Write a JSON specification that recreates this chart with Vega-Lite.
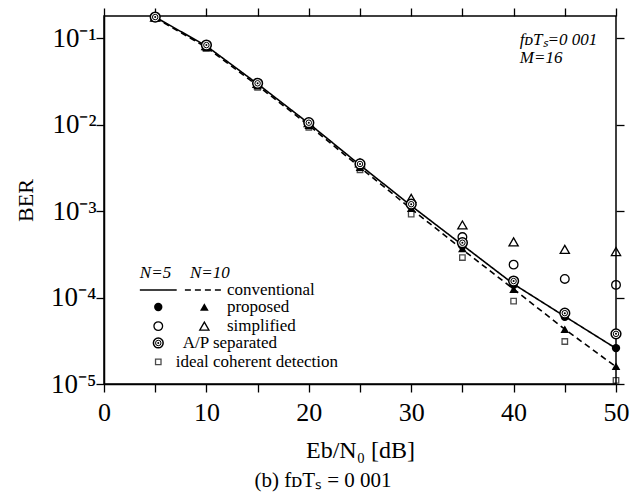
{
  "$schema": "https://vega.github.io/schema/vega-lite/v6.json",
  "width": 512,
  "height": 368,
  "autosize": {"type": "none"},
  "padding": {"left": 104, "top": 16, "right": 16, "bottom": 112},
  "background": "white",
  "title": {"text": "(b)  fᴅTₛ  =  0 001", "orient": "bottom", "fontSize": 21, "fontWeight": "normal", "font": "Liberation Serif", "color": "black", "offset": 8, "dx": -37},
  "config": {
    "view": {"stroke": "black", "strokeWidth": 1.5},
    "font": "Liberation Serif",
    "axis": {"grid": false, "domainColor": "black", "domainWidth": 1.5, "ticks": true, "tickColor": "black", "tickWidth": 1.3, "labelColor": "black", "titleColor": "black", "labelFont": "Liberation Serif", "titleFont": "Liberation Serif", "titleFontWeight": "normal"}
  },
  "datasets": {
    "pts": [
      {"ebn0": 5, "ber": 0.175, "series": "conv5"}, {"ebn0": 10, "ber": 0.081, "series": "conv5"}, {"ebn0": 15, "ber": 0.0295, "series": "conv5"}, {"ebn0": 20, "ber": 0.0103, "series": "conv5"}, {"ebn0": 25, "ber": 0.0034, "series": "conv5"}, {"ebn0": 30, "ber": 0.00115, "series": "conv5"}, {"ebn0": 35, "ber": 0.000405, "series": "conv5"}, {"ebn0": 40, "ber": 0.000143, "series": "conv5"}, {"ebn0": 45, "ber": 0.0000605, "series": "conv5"}, {"ebn0": 50, "ber": 0.0000258, "series": "conv5"},
      {"ebn0": 5, "ber": 0.172, "series": "conv10"}, {"ebn0": 10, "ber": 0.078, "series": "conv10"}, {"ebn0": 15, "ber": 0.0282, "series": "conv10"}, {"ebn0": 20, "ber": 0.0098, "series": "conv10"}, {"ebn0": 25, "ber": 0.0032, "series": "conv10"}, {"ebn0": 30, "ber": 0.00106, "series": "conv10"}, {"ebn0": 35, "ber": 0.00036, "series": "conv10"}, {"ebn0": 40, "ber": 0.000125, "series": "conv10"}, {"ebn0": 45, "ber": 0.000043, "series": "conv10"}, {"ebn0": 50, "ber": 0.0000158, "series": "conv10"},
      {"ebn0": 5, "ber": 0.175, "series": "prop5"}, {"ebn0": 10, "ber": 0.081, "series": "prop5"}, {"ebn0": 15, "ber": 0.0295, "series": "prop5"}, {"ebn0": 20, "ber": 0.0103, "series": "prop5"}, {"ebn0": 25, "ber": 0.0034, "series": "prop5"}, {"ebn0": 30, "ber": 0.00115, "series": "prop5"}, {"ebn0": 35, "ber": 0.0004, "series": "prop5"}, {"ebn0": 40, "ber": 0.00014, "series": "prop5"}, {"ebn0": 45, "ber": 0.00006, "series": "prop5"}, {"ebn0": 50, "ber": 0.000026, "series": "prop5"},
      {"ebn0": 5, "ber": 0.172, "series": "prop10"}, {"ebn0": 10, "ber": 0.078, "series": "prop10"}, {"ebn0": 15, "ber": 0.0282, "series": "prop10"}, {"ebn0": 20, "ber": 0.0098, "series": "prop10"}, {"ebn0": 25, "ber": 0.0032, "series": "prop10"}, {"ebn0": 30, "ber": 0.00108, "series": "prop10"}, {"ebn0": 35, "ber": 0.00037, "series": "prop10"}, {"ebn0": 40, "ber": 0.000125, "series": "prop10"}, {"ebn0": 45, "ber": 0.000043, "series": "prop10"}, {"ebn0": 50, "ber": 0.000016, "series": "prop10"},
      {"ebn0": 5, "ber": 0.175, "series": "simp5"}, {"ebn0": 10, "ber": 0.082, "series": "simp5"}, {"ebn0": 15, "ber": 0.03, "series": "simp5"}, {"ebn0": 20, "ber": 0.0105, "series": "simp5"}, {"ebn0": 25, "ber": 0.0035, "series": "simp5"}, {"ebn0": 30, "ber": 0.0012, "series": "simp5"}, {"ebn0": 35, "ber": 0.0005, "series": "simp5"}, {"ebn0": 40, "ber": 0.00024, "series": "simp5"}, {"ebn0": 45, "ber": 0.000164, "series": "simp5"}, {"ebn0": 50, "ber": 0.00014, "series": "simp5"},
      {"ebn0": 5, "ber": 0.175, "series": "simp10"}, {"ebn0": 10, "ber": 0.082, "series": "simp10"}, {"ebn0": 15, "ber": 0.03, "series": "simp10"}, {"ebn0": 20, "ber": 0.0105, "series": "simp10"}, {"ebn0": 25, "ber": 0.0036, "series": "simp10"}, {"ebn0": 30, "ber": 0.0014, "series": "simp10"}, {"ebn0": 35, "ber": 0.00069, "series": "simp10"}, {"ebn0": 40, "ber": 0.00044, "series": "simp10"}, {"ebn0": 45, "ber": 0.00036, "series": "simp10"}, {"ebn0": 50, "ber": 0.00034, "series": "simp10"},
      {"ebn0": 5, "ber": 0.175, "series": "ap"}, {"ebn0": 10, "ber": 0.083, "series": "ap"}, {"ebn0": 15, "ber": 0.03, "series": "ap"}, {"ebn0": 20, "ber": 0.0105, "series": "ap"}, {"ebn0": 25, "ber": 0.0035, "series": "ap"}, {"ebn0": 30, "ber": 0.0012, "series": "ap"}, {"ebn0": 35, "ber": 0.00043, "series": "ap"}, {"ebn0": 40, "ber": 0.000155, "series": "ap"}, {"ebn0": 45, "ber": 0.000066, "series": "ap"}, {"ebn0": 50, "ber": 0.000038, "series": "ap"},
      {"ebn0": 5, "ber": 0.17, "series": "ideal"}, {"ebn0": 10, "ber": 0.076, "series": "ideal"}, {"ebn0": 15, "ber": 0.027, "series": "ideal"}, {"ebn0": 20, "ber": 0.0093, "series": "ideal"}, {"ebn0": 25, "ber": 0.003, "series": "ideal"}, {"ebn0": 30, "ber": 0.00092, "series": "ideal"}, {"ebn0": 35, "ber": 0.00029, "series": "ideal"}, {"ebn0": 40, "ber": 0.000091, "series": "ideal"}, {"ebn0": 45, "ber": 0.000031, "series": "ideal"}, {"ebn0": 50, "ber": 0.000011, "series": "ideal"},
      {"ebn0": 5.3, "ber": 0.0000776, "series": "prop5"}, {"ebn0": 9.8, "ber": 0.0000776, "series": "prop10"},
      {"ebn0": 5.3, "ber": 0.0000467, "series": "simp5"}, {"ebn0": 9.8, "ber": 0.0000467, "series": "simp10"},
      {"ebn0": 5.3, "ber": 0.0000298, "series": "ap"}, {"ebn0": 5.3, "ber": 0.000018, "series": "ideal"}
    ],
    "legLines": [
      {"ebn0": 3.5, "ebn0End": 7.1, "ber": 0.000122, "series": "conv5"},
      {"ebn0": 7.9, "ebn0End": 11.6, "ber": 0.000122, "series": "conv10"}
    ],
    "texts": [
      {"ebn0": 3.5, "ber": 0.000192, "label": "N=5", "kind": "italic"},
      {"ebn0": 8.4, "ber": 0.000192, "label": "N=10", "kind": "italic"},
      {"ebn0": 40.6, "ber": 0.095, "label": "fᴅTₛ=0 001", "kind": "italic"},
      {"ebn0": 40.6, "ber": 0.059, "label": "M=16", "kind": "italic"},
      {"ebn0": 12.0, "ber": 0.000122, "label": "conventional", "kind": "normal"},
      {"ebn0": 12.0, "ber": 0.0000776, "label": "proposed", "kind": "normal"},
      {"ebn0": 12.0, "ber": 0.0000467, "label": "simplified", "kind": "normal"},
      {"ebn0": 7.7, "ber": 0.0000298, "label": "A/P separated", "kind": "normal"},
      {"ebn0": 7.0, "ber": 0.000018, "label": "ideal coherent detection", "kind": "normal"}
    ]
  },
  "resolve": {"axis": {"x": "independent", "y": "independent"}},
  "layer": [
    {
      "data": {"name": "pts"},
      "transform": [{"filter": "datum.series === 'conv5' || datum.series === 'conv10'"}],
      "mark": {"type": "line", "color": "black", "strokeWidth": 1.6, "clip": false},
      "encoding": {
        "x": {"field": "ebn0", "type": "quantitative", "scale": {"domain": [0, 50], "nice": false, "zero": false},
              "axis": {"orient": "bottom", "values": [0, 5, 10, 15, 20, 25, 30, 35, 40, 45, 50], "tickSize": 8, "encode": {"ticks": {"update": {"y2": {"value": -8}}}}, "labelExpr": "datum.value % 10 === 0 ? datum.label : ''", "labelFontSize": 26, "labelPadding": 7, "labelFlush": false, "title": "Eb/N₀ [dB]", "titleFontSize": 24, "titleY": 66, "titleBaseline": "middle"}},
        "y": {"field": "ber", "type": "quantitative", "scale": {"type": "log", "domain": [0.00001, 0.18], "nice": false},
              "axis": {"orient": "left", "values": [0.00001, 0.0001, 0.001, 0.01, 0.1], "tickSize": 8, "encode": {"ticks": {"update": {"x2": {"value": 8}}}}, "labelExpr": "'10⁻' + ['', '¹', '²', '³', '⁴', '⁵'][round(-log(datum.value) / LN10)]", "labelFontSize": 27, "labelPadding": 0, "labelFlush": false, "title": "BER", "titleFontSize": 22, "titleX": -79, "titleY": 184, "titleBaseline": "middle", "titleAngle": 270}},
        "detail": {"field": "series"},
        "strokeDash": {"field": "series", "type": "nominal", "scale": {"domain": ["conv5", "conv10"], "range": [[1, 0], [6, 4]]}, "legend": null}
      }
    },
    {
      "data": {"name": "legLines"},
      "mark": {"type": "rule", "color": "black", "strokeWidth": 1.6},
      "encoding": {
        "x": {"field": "ebn0", "type": "quantitative", "axis": null},
        "x2": {"field": "ebn0End"},
        "y": {"field": "ber", "type": "quantitative", "axis": null},
        "strokeDash": {"field": "series", "type": "nominal", "scale": {"domain": ["conv5", "conv10"], "range": [[1, 0], [6, 4]]}, "legend": null}
      }
    },
    {
      "data": {"name": "pts"},
      "transform": [{"filter": "datum.series === 'ideal'"}],
      "mark": {"type": "point", "shape": "square", "filled": false, "size": 30, "color": "black", "strokeWidth": 1.3, "clip": false},
      "encoding": {
        "x": {"field": "ebn0", "type": "quantitative", "axis": {"orient": "top", "values": [0, 5, 10, 15, 20, 25, 30, 35, 40, 45, 50], "tickSize": 8, "encode": {"ticks": {"update": {"y2": {"value": 8}}}}, "labels": false, "title": null, "domain": false}},
        "y": {"field": "ber", "type": "quantitative", "axis": {"orient": "right", "values": [0.00001, 0.0001, 0.001, 0.01, 0.1], "tickSize": 8, "encode": {"ticks": {"update": {"x2": {"value": -8}}}}, "labels": false, "title": null, "domain": false}}
      }
    },
    {
      "data": {"name": "pts"},
      "transform": [{"filter": "datum.series === 'prop5'"}],
      "mark": {"type": "point", "shape": "circle", "filled": true, "size": 70, "color": "black", "opacity": 1, "clip": false},
      "encoding": {"x": {"field": "ebn0", "type": "quantitative", "axis": null}, "y": {"field": "ber", "type": "quantitative", "axis": null}}
    },
    {
      "data": {"name": "pts"},
      "transform": [{"filter": "datum.series === 'prop10'"}],
      "mark": {"type": "point", "shape": "triangle-up", "filled": true, "size": 75, "color": "black", "opacity": 1, "clip": false},
      "encoding": {"x": {"field": "ebn0", "type": "quantitative", "axis": null}, "y": {"field": "ber", "type": "quantitative", "axis": null}}
    },
    {
      "data": {"name": "pts"},
      "transform": [{"filter": "datum.series === 'simp5'"}],
      "mark": {"type": "point", "shape": "circle", "filled": false, "size": 75, "color": "black", "strokeWidth": 1.3, "opacity": 1, "clip": false},
      "encoding": {"x": {"field": "ebn0", "type": "quantitative", "axis": null}, "y": {"field": "ber", "type": "quantitative", "axis": null}}
    },
    {
      "data": {"name": "pts"},
      "transform": [{"filter": "datum.series === 'simp10'"}],
      "mark": {"type": "point", "shape": "triangle-up", "filled": false, "size": 85, "color": "black", "strokeWidth": 1.3, "opacity": 1, "clip": false},
      "encoding": {"x": {"field": "ebn0", "type": "quantitative", "axis": null}, "y": {"field": "ber", "type": "quantitative", "axis": null}}
    },
    {
      "data": {"name": "pts"},
      "transform": [{"filter": "datum.series === 'ap'"}],
      "mark": {"type": "point", "shape": "circle", "filled": true, "size": 95, "color": "white", "stroke": "black", "strokeWidth": 1.5, "opacity": 1, "clip": false},
      "encoding": {"x": {"field": "ebn0", "type": "quantitative", "axis": null}, "y": {"field": "ber", "type": "quantitative", "axis": null}}
    },
    {
      "data": {"name": "pts"},
      "transform": [{"filter": "datum.series === 'ap'"}],
      "mark": {"type": "point", "shape": "circle", "filled": false, "size": 30, "color": "black", "strokeWidth": 1, "opacity": 1, "clip": false},
      "encoding": {"x": {"field": "ebn0", "type": "quantitative", "axis": null}, "y": {"field": "ber", "type": "quantitative", "axis": null}}
    },
    {
      "data": {"name": "pts"},
      "transform": [{"filter": "datum.series === 'ap'"}],
      "mark": {"type": "point", "shape": "circle", "filled": true, "size": 4, "color": "black", "opacity": 1, "clip": false},
      "encoding": {"x": {"field": "ebn0", "type": "quantitative", "axis": null}, "y": {"field": "ber", "type": "quantitative", "axis": null}}
    },
    {
      "data": {"name": "texts"},
      "transform": [{"filter": "datum.kind === 'italic'"}],
      "mark": {"type": "text", "align": "left", "baseline": "middle", "fontSize": 17, "fontStyle": "italic", "font": "Liberation Serif", "color": "black"},
      "encoding": {"x": {"field": "ebn0", "type": "quantitative", "axis": null}, "y": {"field": "ber", "type": "quantitative", "axis": null}, "text": {"field": "label"}}
    },
    {
      "data": {"name": "texts"},
      "transform": [{"filter": "datum.kind === 'normal'"}],
      "mark": {"type": "text", "align": "left", "baseline": "middle", "fontSize": 17, "font": "Liberation Serif", "color": "black"},
      "encoding": {"x": {"field": "ebn0", "type": "quantitative", "axis": null}, "y": {"field": "ber", "type": "quantitative", "axis": null}, "text": {"field": "label"}}
    }
  ]
}
